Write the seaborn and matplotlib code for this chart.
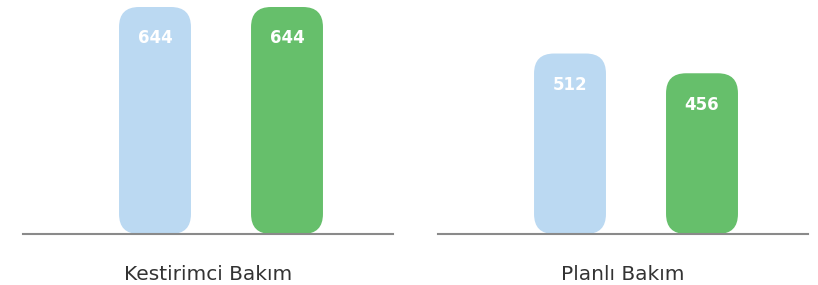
import matplotlib
matplotlib.use("Agg")
import matplotlib.pyplot as plt
from matplotlib.patches import FancyBboxPatch
import seaborn as sns
import pandas as pd

categories = ["Kestirimci Bakım", "Planlı Bakım"]
series = ["A", "B"]
values_a = [644, 512]
values_b = [644, 456]
colors = ["#BBD9F2", "#66BF6B"]

sns.set_style("white")
plt.rcParams["font.family"] = ["DejaVu Sans"]

W, H = 818, 285
fig = plt.figure(figsize=(W / 100, H / 100), dpi=100)

axes_px = [(23, 393), (438, 808)]
top_px, base_px = 7, 234

for i, cat in enumerate(categories):
    x0, x1 = axes_px[i]
    ax = fig.add_axes([x0 / W, 1 - base_px / H, (x1 - x0) / W, (base_px - top_px) / H])
    df = pd.DataFrame({"series": series, "value": [values_a[i], values_b[i]]})
    sns.barplot(data=df, x="series", y="value", hue="series", palette=colors,
                width=0.545, legend=False, ax=ax, saturation=1)
    ax.set_xlim(-1.0, 1.803)
    ax.set_ylim(0, 644)
    px_per_x = (x1 - x0) / 2.803
    px_per_y = (base_px - top_px) / 644
    r_px = 20
    r_x = r_px / px_per_x
    aspect = (r_px / px_per_y) / r_x
    for p in list(ax.patches):
        bx, by = p.get_x(), p.get_y()
        bw, bh = p.get_width(), p.get_height()
        fc = p.get_facecolor()
        p.set_visible(False)
        fb = FancyBboxPatch((bx, by), bw, bh,
                            boxstyle=f"round,pad=0,rounding_size={r_x}",
                            mutation_aspect=aspect, facecolor=fc, edgecolor="none",
                            clip_on=False, zorder=2)
        ax.add_patch(fb)
        ax.annotate(f"{int(round(bh))}", xy=(bx + bw / 2, bh), xytext=(0, -22.5),
                    textcoords="offset points", ha="center", va="center",
                    color="white", fontsize=12, fontweight="bold", zorder=3)
    ax.set_xticks([])
    ax.set_yticks([])
    ax.set_xlabel("")
    ax.set_ylabel("")
    for s in ["top", "left", "right"]:
        ax.spines[s].set_visible(False)
    ax.spines["bottom"].set_color("#8a8a8a")
    ax.spines["bottom"].set_linewidth(1.5)
    ax.spines["bottom"].set_zorder(4)
    ax.text(0.5, -(274 - base_px) / (base_px - top_px), cat, transform=ax.transAxes,
            ha="center", va="center", fontsize=14.5, color="#333333")

fig.savefig("out.png", dpi=100)
